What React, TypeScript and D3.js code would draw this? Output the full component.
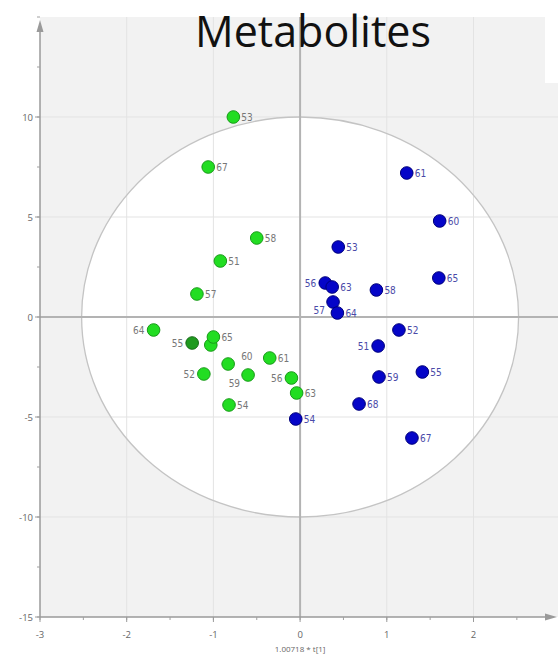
import React from "react";
import * as d3 from "d3";

// Scores for the two sample groups (t[1] scaled, t[2]) with sample labels
const groupGreen = [
  { id: "53", x: -0.77, y: 10.0 },
  { id: "67", x: -1.06, y: 7.5 },
  { id: "58", x: -0.5, y: 3.95 },
  { id: "51", x: -0.92, y: 2.8 },
  { id: "57", x: -1.19, y: 1.15 },
  { id: "64", x: -1.69, y: -0.65 },
  { id: "55", x: -1.245, y: -1.3 },
  { id: "", x: -1.03, y: -1.4 },
  { id: "65", x: -1.0, y: -1.0 },
  { id: "60", x: -0.83, y: -2.35 },
  { id: "52", x: -1.11, y: -2.85 },
  { id: "59", x: -0.6, y: -2.9 },
  { id: "61", x: -0.35, y: -2.05 },
  { id: "56", x: -0.1, y: -3.05 },
  { id: "63", x: -0.04, y: -3.8 },
  { id: "54", x: -0.82, y: -4.4 },
];

const groupBlue = [
  { id: "61", x: 1.23, y: 7.2 },
  { id: "60", x: 1.61, y: 4.8 },
  { id: "53", x: 0.44, y: 3.5 },
  { id: "56", x: 0.29, y: 1.7 },
  { id: "63", x: 0.37, y: 1.5 },
  { id: "57", x: 0.38, y: 0.75 },
  { id: "64", x: 0.43, y: 0.2 },
  { id: "58", x: 0.88, y: 1.35 },
  { id: "65", x: 1.6, y: 1.95 },
  { id: "52", x: 1.14, y: -0.65 },
  { id: "51", x: 0.9, y: -1.45 },
  { id: "59", x: 0.91, y: -3.0 },
  { id: "55", x: 1.41, y: -2.75 },
  { id: "68", x: 0.68, y: -4.35 },
  { id: "67", x: 1.29, y: -6.05 },
  { id: "54", x: -0.05, y: -5.1 },
];

const xMajorTicks = [-3, -2, -1, 0, 1, 2];
const yMajorTicks = [-15, -10, -5, 0, 5, 10];
const ellipseRadii = { x: 2.52, y: 10 };
const title = "Metabolites";
const xAxisLabel = "1.00718 * t[1]";

// Label placement around a marker (layout only)
type Place = "right" | "left" | "upright" | "downleft";
const greenPlace: Record<string, Place> = {
  "64": "left",
  "55": "left",
  "52": "left",
  "56": "left",
  "59": "downleft",
  "60": "upright",
};
const bluePlace: Record<string, Place> = {
  "56": "left",
  "57": "downleft",
  "51": "left",
};
const darkGreen = new Set(["55"]);

const W = 558;
const H = 656;

export default function App() {
  const x = d3.scaleLinear().domain([-3, 2.94]).range([40, 555]);
  const y = d3.scaleLinear().domain([-15, 15]).range([617, 17]);

  const xMinor = d3.range(-3, 2.75, 0.5);
  const yMinor = d3.range(-15, 15.01, 2.5);

  const labelPos = (px: number, py: number, place: Place) => {
    switch (place) {
      case "left":
        return { lx: px - 9, ly: py + 3.5, anchor: "end" };
      case "upright":
        return { lx: px + 13, ly: py - 4, anchor: "start" };
      case "downleft":
        return { lx: px - 8, ly: py + 12, anchor: "end" };
      default:
        return { lx: px + 8, ly: py + 3.5, anchor: "start" };
    }
  };

  const renderGroup = (
    data: { id: string; x: number; y: number }[],
    places: Record<string, Place>,
    fill: string,
    stroke: string,
    labelColor: string,
    key: string
  ) => (
    <g key={key}>
      {data.map((d, i) => {
        const px = x(d.x);
        const py = y(d.y);
        const isDark = key === "green" && darkGreen.has(d.id);
        return (
          <circle
            key={i}
            cx={px}
            cy={py}
            r={6.3}
            fill={isDark ? "#1f9a1f" : fill}
            stroke={isDark ? "#166a16" : stroke}
            strokeWidth={1}
          />
        );
      })}
      {data.map((d, i) => {
        if (!d.id) return null;
        const { lx, ly, anchor } = labelPos(x(d.x), y(d.y), places[d.id] || "right");
        return (
          <text
            key={"l" + i}
            x={lx}
            y={ly}
            textAnchor={anchor as any}
            fontSize={10}
            fontFamily="'Liberation Sans Narrow', 'DejaVu Sans Condensed', 'Liberation Sans', sans-serif"
            fill={labelColor}
          >
            {d.id}
          </text>
        );
      })}
    </g>
  );

  const x0 = x(0);
  const y0 = y(0);
  const rx = x(ellipseRadii.x) - x(0);
  const ry = y(0) - y(ellipseRadii.y);

  const tickFont = "'Open Sans', 'DejaVu Sans', sans-serif";

  return (
    <svg
      width={W}
      height={H}
      style={{ position: "absolute", left: 0, top: 0, display: "block", background: "#fff" }}
    >
      {/* plot background */}
      <rect x={40} y={17} width={W - 40} height={617 - 17} fill="#f2f2f2" />
      <rect x={545} y={0} width={W - 545} height={83} fill="#ffffff" />

      {/* confidence ellipse fill */}
      <ellipse cx={x0} cy={y0} rx={rx} ry={ry} fill="#ffffff" />

      {/* grid */}
      {xMajorTicks
        .filter((t) => t !== 0 && t !== -3)
        .map((t) => (
          <line key={"gx" + t} x1={x(t)} x2={x(t)} y1={17} y2={617} stroke="#e3e3e3" strokeWidth={1} />
        ))}
      {yMajorTicks
        .filter((t) => t !== 0 && t !== -15)
        .map((t) => (
          <line key={"gy" + t} x1={40} x2={W} y1={y(t)} y2={y(t)} stroke="#e3e3e3" strokeWidth={1} />
        ))}

      {/* ellipse outline */}
      <ellipse cx={x0} cy={y0} rx={rx} ry={ry} fill="none" stroke="#c4c4c4" strokeWidth={1.3} />

      {/* zero lines */}
      <line x1={40} x2={W} y1={y0} y2={y0} stroke="#b3b3b3" strokeWidth={2} />
      <line x1={x0} x2={x0} y1={17} y2={617} stroke="#b3b3b3" strokeWidth={2} />

      {/* y axis */}
      <line x1={40} x2={40} y1={617} y2={24} stroke="#9a9a9a" strokeWidth={1.5} />
      <path d={`M40,20 L36.5,32 L43.5,32 Z`} fill="#9a9a9a" />
      {yMinor.map((t) => (
        <line key={"ym" + t} x1={37} x2={40} y1={y(t)} y2={y(t)} stroke="#a0a0a0" strokeWidth={1} />
      ))}
      {yMajorTicks.map((t) => (
        <g key={"yt" + t}>
          <line x1={35} x2={40} y1={y(t)} y2={y(t)} stroke="#9a9a9a" strokeWidth={1} />
          <text x={33} y={y(t) + 3.5} textAnchor="end" fontSize={9.5} fontFamily={tickFont} fill="#666">
            {t}
          </text>
        </g>
      ))}

      {/* x axis */}
      <line x1={40} x2={548} y1={617} y2={617} stroke="#9a9a9a" strokeWidth={1.5} />
      <path d={`M557,617 L545,613.5 L545,620.5 Z`} fill="#9a9a9a" />
      {xMinor.map((t) => (
        <line key={"xm" + t} x1={x(t)} x2={x(t)} y1={617} y2={620} stroke="#a0a0a0" strokeWidth={1} />
      ))}
      {xMajorTicks.map((t) => (
        <g key={"xt" + t}>
          <line x1={x(t)} x2={x(t)} y1={617} y2={622} stroke="#9a9a9a" strokeWidth={1} />
          <text x={x(t)} y={638} textAnchor="middle" fontSize={9.5} fontFamily={tickFont} fill="#666">
            {t}
          </text>
        </g>
      ))}
      <text x={x0} y={652} textAnchor="middle" fontSize={8} fontFamily={tickFont} fill="#666">
        {xAxisLabel}
      </text>

      {/* points */}
      {renderGroup(groupGreen, greenPlace, "#22dd22", "#1a9a1a", "#777777", "green")}
      {renderGroup(groupBlue, bluePlace, "#0505c8", "#00007a", "#4a4aa8", "blue")}

      {/* title */}
      <text
        x={313}
        y={47}
        textAnchor="middle"
        fontSize={43}
        fontFamily="'Open Sans', 'Liberation Sans', sans-serif"
        fill="#111"
      >
        {title}
      </text>
    </svg>
  );
}
